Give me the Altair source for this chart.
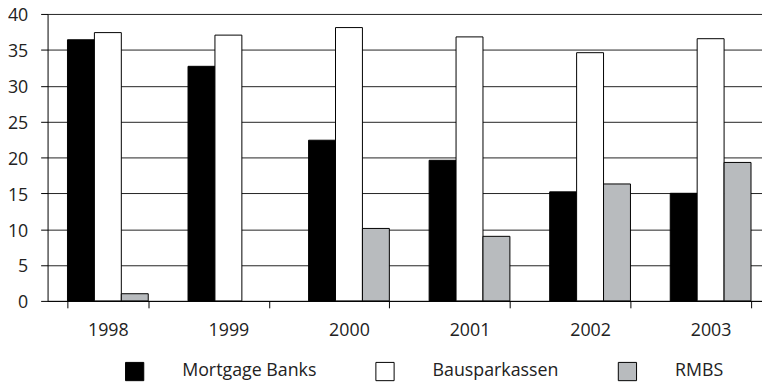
import altair as alt
import pandas as pd

years = ["1998", "1999", "2000", "2001", "2002", "2003"]
series = ["Mortgage Banks", "Bausparkassen", "RMBS"]
mortgage_banks = [36.4, 32.7, 22.4, 19.6, 15.2, 15.0]
bausparkassen = [37.4, 37.05, 38.1, 36.8, 34.6, 36.55]
rmbs = [1.0, 0.0, 10.1, 9.0, 16.3, 19.3]
colors = ["#000000", "#ffffff", "#b8bbbe"]
y_ticks = [0, 5, 10, 15, 20, 25, 30, 35, 40]

rows = []
for name, vals in zip(series, [mortgage_banks, bausparkassen, rmbs]):
    for yr, v in zip(years, vals):
        rows.append({"Year": yr, "Series": name, "Value": v})
df = pd.DataFrame(rows)

FONT = "Open Sans"

chart = alt.Chart(df).mark_bar(stroke="black", strokeWidth=1).encode(
    x=alt.X("Year:N", sort=years, title=None,
            scale=alt.Scale(range=[0, 731], paddingInner=0.33, paddingOuter=0.165),
            axis=alt.Axis(labelAngle=0, tickBand="extent", tickSize=7, labelPadding=14,
                          labelFontSize=18, labelFont=FONT, labelColor="#222",
                          domainColor="black", tickColor="black", grid=False)),
    xOffset=alt.XOffset("Series:N", sort=series),
    y=alt.Y("Value:Q", title=None,
            scale=alt.Scale(domain=[0, 40], nice=False),
            axis=alt.Axis(values=y_ticks, tickSize=7, labelPadding=13, labelOffset=2,
                          labelFontSize=18, labelFont=FONT, labelColor="#222",
                          domainColor="black", tickColor="black",
                          grid=True, gridColor="#222", gridWidth=1)),
    color=alt.Color("Series:N", sort=series,
                    scale=alt.Scale(domain=series, range=colors),
                    legend=alt.Legend(title=None, orient="none", direction="horizontal",
                                      legendX=78, legendY=351,
                                      symbolType="square", symbolSize=340,
                                      symbolStrokeColor="black", symbolStrokeWidth=1,
                                      labelFontSize=18, labelFont=FONT, labelColor="#222",
                                      labelOffset=38, columnPadding=57)),
).transform_filter(
    "datum.Value > 0"
).properties(
    width=722, height=290,
    autosize=alt.AutoSizeParams(type="none"),
    padding={"left": 40, "top": 4, "right": 0, "bottom": 85},
).configure_view(stroke=None)

chart.save("out.html", embed_options={"renderer": "svg", "actions": False})
